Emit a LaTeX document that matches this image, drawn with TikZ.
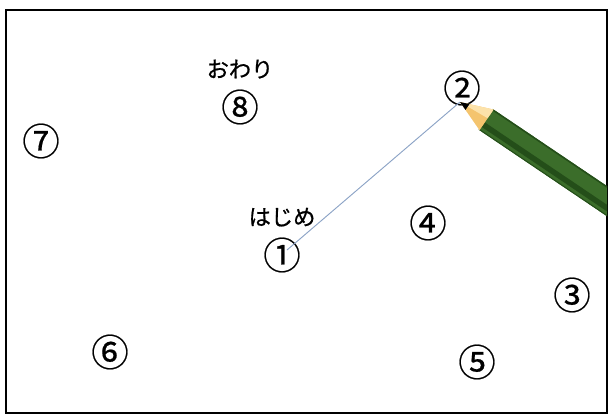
\documentclass[tikz,border=0pt]{standalone}
\usepackage{fontspec}
\usepackage{tikz}
\usetikzlibrary{positioning}
\newfontfamily\jpfont[FakeBold=0.8]{Noto Sans CJK JP}
\newfontfamily\jpnumfont[FakeBold=0.5]{Noto Sans CJK JP}

\definecolor{pencilgreen}{HTML}{3B6D2A}
\definecolor{pencildark}{HTML}{244E19}
\definecolor{woodtone}{HTML}{F4C46E}
\definecolor{woodlight}{HTML}{FCE2AA}
\definecolor{strokeblue}{HTML}{8CA3C6}

\tikzset{
    num/.style={inner sep=0pt, font=\jpnumfont\fontsize{32}{32}\selectfont},
    word/.style={inner sep=0pt, font=\jpfont\fontsize{19}{19}\selectfont},
}

\begin{document}
\begin{tikzpicture}[x=0.03cm, y=-0.03cm]
        \useasboundingbox (0,0) rectangle (610,416);
        \draw[line width=1.4pt] (6,10) rectangle (607,413);

        % dots to join
        \node[num] (n1) at (282,255) {①};
        \node[num] (n2) at (462,88) {②};
        \node[num] (n3) at (572,295) {③};
        \node[num] (n4) at (428,223) {④};
        \node[num] (n5) at (477,362) {⑤};
        \node[num] (n6) at (110,352) {⑥};
        \node[num] (n7) at (41,141) {⑦};
        \node[num] (n8) at (240,107) {⑧};
        \node[word, above=9pt of n1] (start) {はじめ};
        \node[word, above=9pt of n8] (finish) {おわり};

        % pencil tip and the line drawn so far
        \coordinate (tip) at (460,102);
        \draw[strokeblue, line width=0.8pt] (n1.center) ++(5,-5) -- (tip);

        \begin{scope}
            \clip (6,10) rectangle (607,413);
            \begin{scope}[shift={(tip)}, rotate=-34]
                % body
                \fill[pencilgreen] (31,-12.5) rectangle (320,12.5);
                \fill[pencildark] (31,-12.5) rectangle (320,-11);
                \fill[pencildark] (31,3) rectangle (320,8.5);
                \fill[pencildark] (31,11.5) rectangle (320,12.5);
                % sharpened wood
                \fill[woodtone] (0,0) -- (32,-12.5) -- (32,12.5) -- cycle;
                \fill[woodlight] (0,0) -- (32,-12.5) -- (32,-2) -- cycle;
                % lead
                \fill[black] (0,0) -- (9,-3.5) -- (9,3.5) -- cycle;
            \end{scope}
        \end{scope}
\end{tikzpicture}
\end{document}
